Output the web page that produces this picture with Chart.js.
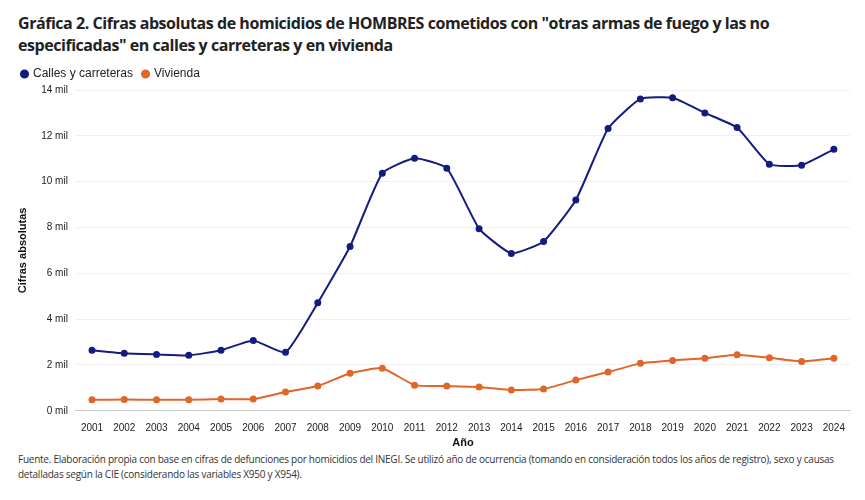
<!DOCTYPE html>
<html>
<head>
<meta charset="utf-8">
<script src="https://cdn.jsdelivr.net/npm/chart.js@4"></script>
<style>
  body { margin: 0; background: #fff; font-family: "Open Sans", "Noto Sans", sans-serif; }
  #title { position: absolute; left: 18px; top: 12px; width: 840px; font-size: 16px; letter-spacing: -0.45px; font-weight: bold; color: #222; line-height: 22px; }
  #wrap { position: absolute; left: 8px; top: 58px; width: 850px; height: 392px; }
  #note { position: absolute; left: 18px; top: 452px; width: 845px; font-size: 10px; letter-spacing: -0.25px; color: #333; line-height: 15px; }
</style>
</head>
<body>
<div id="title">Gráfica 2. Cifras absolutas de homicidios de HOMBRES cometidos con "otras armas de fuego y las no especificadas" en calles y carreteras y en vivienda</div>
<div id="wrap"><canvas id="chart"></canvas></div>
<div id="note">Fuente. Elaboración propia con base en cifras de defunciones por homicidios del INEGI. Se utilizó año de ocurrencia (tomando en consideración todos los años de registro), sexo y causas detalladas según la CIE (considerando las variables X950 y X954).</div>
<script>
var years = ['2001','2002','2003','2004','2005','2006','2007','2008','2009','2010','2011','2012',
             '2013','2014','2015','2016','2017','2018','2019','2020','2021','2022','2023','2024'];

// Calles y carreteras
var callesData = [2640, 2510, 2460, 2420, 2640, 3070, 2550, 4710, 7170, 10370, 11020, 10590,
                  7950, 6870, 7390, 9200, 12320, 13610, 13660, 13000, 12360, 10760, 10720, 11410];

// Vivienda
var viviendaData = [480, 490, 480, 480, 510, 510, 820, 1080, 1640, 1860, 1120, 1080,
                    1040, 910, 950, 1340, 1690, 2070, 2200, 2290, 2450, 2310, 2150, 2290];

var yTicks = [0, 2000, 4000, 6000, 8000, 10000, 12000, 14000];

new Chart(document.getElementById('chart'), {
    type: 'line',
    data: {
        labels: years,
        datasets: [
            {
                label: 'Calles y carreteras',
                data: callesData,
                borderColor: '#141c80',
                backgroundColor: '#141c80',
                borderWidth: 2,
                pointRadius: 2.5,
                tension: 0.15
            },
            {
                label: 'Vivienda',
                data: viviendaData,
                borderColor: '#e0662a',
                backgroundColor: '#e0662a',
                borderWidth: 2,
                pointRadius: 2.5,
                tension: 0.15
            }
        ]
    },
    options: {
        responsive: true,
        maintainAspectRatio: false,
        animation: false,
        layout: { padding: { left: 4, right: 8 } },
        scales: {
            y: {
                min: 0,
                max: 14000,
                afterBuildTicks: function(axis) {
                    axis.ticks = yTicks.map(function(v) { return { value: v }; });
                },
                ticks: {
                    color: '#222',
                    font: { size: 10 },
                    padding: 8,
                    callback: function(v) { return (v / 1000) + ' mil'; }
                },
                grid: { color: '#f0f0f0', drawTicks: false },
                border: { display: false },
                title: { display: true, text: 'Cifras absolutas', color: '#111', font: { size: 11, weight: 'bold' } }
            },
            x: {
                offset: true,
                ticks: { color: '#222', font: { size: 10 } },
                grid: { display: false },
                border: { color: '#ccc' },
                title: { display: true, text: 'Año', color: '#111', font: { size: 11, weight: 'bold' }, padding: 0 }
            }
        },
        plugins: {
            legend: {
                position: 'top',
                align: 'start',
                labels: {
                    usePointStyle: true,
                    pointStyle: 'circle',
                    boxWidth: 5,
                    boxHeight: 5,
                    padding: 10,
                    color: '#222',
                    font: { size: 12 }
                }
            },
            tooltip: { enabled: false }
        }
    }
});
</script>
</body>
</html>
